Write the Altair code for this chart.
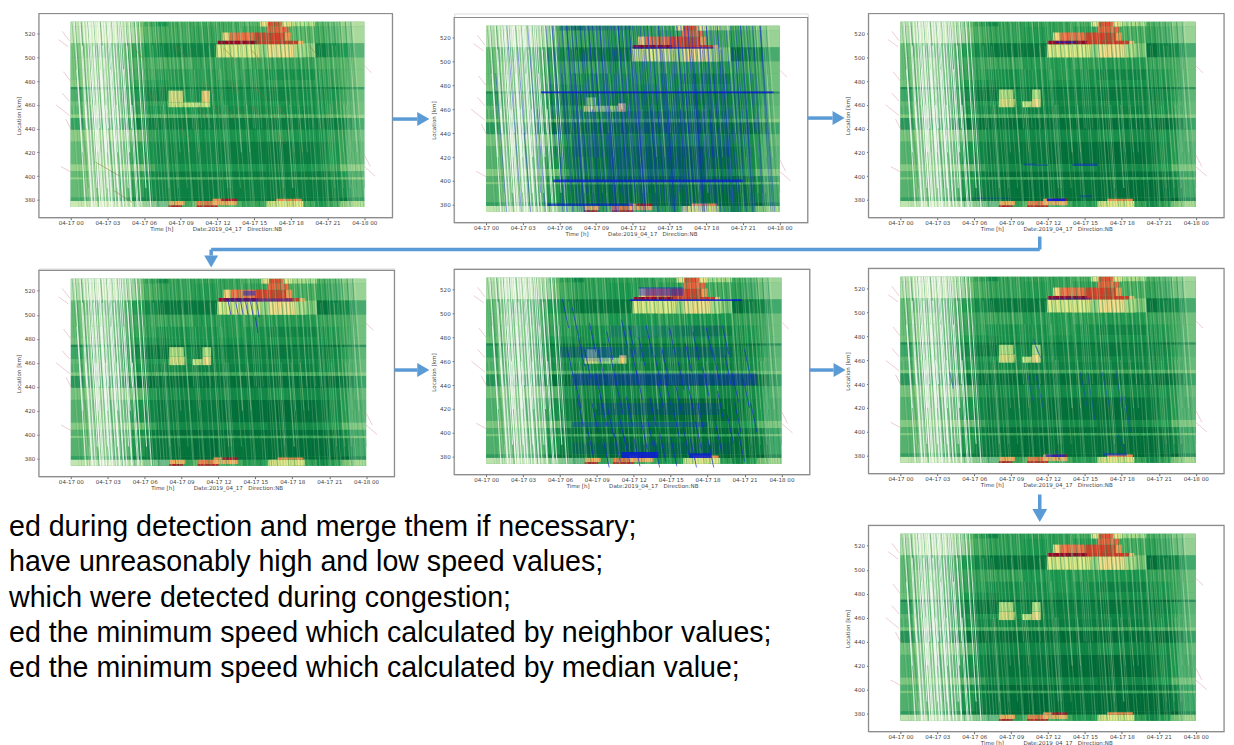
import altair as alt
import pandas as pd

# ---- shared values ----
tick_hours = [0, 3, 6, 9, 12, 15, 18, 21, 24]
tick_km = [380, 400, 420, 440, 460, 480, 500, 520]
time_edges = [0, 1, 2, 3, 4, 5, 6, 7, 8, 10, 12, 14, 16, 18, 20, 21, 22, 23, 24]
band_edges = [530, 526, 512, 500, 490, 481, 475, 473, 463, 459, 452, 449, 439, 429, 410, 404, 399, 397, 382, 379, 374]
band_speed = [
    [72, 70, 68, 70, 72, 78, 86, 92, 86, 86, 86, 82, 70, 68, 82, 82, 76, 74],
    [74, 70, 68, 70, 72, 76, 82, 86, 86, 88, 86, 86, 82, 82, 86, 86, 80, 76],
    [80, 80, 82, 85, 85, 88, 92, 96, 96, 96, 98, 78, 72, 74, 97, 94, 92, 88],
    [80, 76, 76, 82, 84, 84, 85, 85, 85, 88, 88, 86, 88, 88, 85, 85, 84, 80],
    [80, 76, 76, 80, 84, 85, 87, 90, 90, 90, 88, 90, 93, 93, 90, 88, 85, 80],
    [78, 75, 75, 80, 85, 88, 90, 92, 90, 90, 90, 90, 90, 90, 90, 88, 85, 80],
    [95, 92, 90, 92, 95, 96, 97, 98, 98, 98, 98, 98, 98, 98, 98, 98, 96, 94],
    [88, 82, 78, 82, 88, 92, 96, 97, 92, 94, 94, 94, 96, 94, 94, 92, 88, 84],
    [82, 78, 76, 80, 85, 88, 90, 90, 90, 92, 92, 92, 92, 92, 92, 90, 85, 82],
    [84, 78, 76, 80, 86, 90, 92, 93, 92, 94, 94, 94, 94, 94, 92, 90, 86, 82],
    [76, 74, 73, 74, 76, 78, 80, 80, 80, 82, 82, 82, 82, 82, 82, 80, 78, 76],
    [92, 86, 84, 88, 94, 97, 98, 98, 98, 98, 98, 98, 98, 98, 98, 98, 96, 90],
    [78, 74, 72, 72, 74, 78, 88, 92, 92, 92, 92, 92, 90, 92, 92, 90, 88, 82],
    [84, 78, 76, 80, 85, 90, 93, 96, 96, 96, 98, 98, 99, 98, 96, 92, 88, 85],
    [76, 74, 72, 72, 74, 76, 85, 92, 92, 92, 92, 92, 95, 92, 90, 88, 78, 76],
    [84, 80, 78, 82, 86, 90, 95, 97, 98, 98, 98, 98, 98, 98, 98, 96, 92, 88],
    [76, 74, 74, 74, 76, 78, 82, 84, 84, 84, 84, 84, 84, 84, 84, 84, 80, 76],
    [84, 78, 76, 80, 84, 88, 94, 96, 97, 98, 97, 97, 98, 98, 98, 97, 94, 88],
    [90, 86, 82, 88, 92, 94, 96, 97, 98, 99, 98, 98, 99, 99, 98, 99, 99, 94],
    [70, 68, 66, 68, 70, 72, 78, 86, 84, 78, 82, 88, 70, 86, 92, 88, 74, 70],
]
congestion = [
    (11.9, 15.5, 500, 511, 57), (15.5, 16.1, 500, 511, 72), (16.1, 18.3, 500, 511, 50), (18.3, 19.1, 500, 511, 68),
    (12.4, 13.0, 514, 521, 48), (13.0, 15.0, 514, 521, 30), (15.0, 17.5, 514, 521, 22), (17.5, 18.0, 514, 521, 36),
    (16.0, 17.8, 521, 526, 28), (15.5, 16.1, 526, 530, 52), (16.1, 17.3, 526, 530, 25), (17.3, 18.0, 526, 530, 54),
    (12.0, 15.2, 511, 514, 9), (15.2, 18.6, 511, 514, 21), (18.6, 19.0, 511, 514, 42),
    (8.0, 9.1, 374, 375.5, 14), (10.3, 12.0, 374, 375.5, 17), (8.0, 9.3, 375.5, 379, 40), (10.3, 11.6, 375.5, 379, 32),
    (11.6, 13.6, 375.5, 379, 40), (11.6, 12.3, 379, 381, 35), (12.3, 13.6, 379, 381, 12),
    (16.1, 19.0, 374, 379, 56), (16.8, 18.9, 379, 381, 34),
]
mid_box_wide = [(8.0, 11.4, 458, 462, 58), (8.0, 9.2, 462, 472, 54), (10.7, 11.4, 462, 472, 46)]
mid_box_narrow = [(8.0, 9.3, 458, 465, 54), (9.9, 10.7, 458, 463, 60), (10.7, 11.4, 458, 465, 50),
                  (8.0, 9.2, 465, 473, 64), (10.7, 11.4, 465, 473, 66)]
mid_box_faded = [(8.0, 9.0, 458, 463, 56), (9.0, 10.8, 458, 463, 70), (10.8, 11.4, 458, 465, 46), (8.2, 9.0, 463, 470, 72)]
haze = [(0, 5, 374, 530, 0.1), (1.4, 4.2, 374, 530, 0.18), (0, 5.5, 512, 530, 0.32), (0, 8, 374, 379, 0.28),
        (22.6, 24, 374, 530, 0.15), (21, 24, 512, 530, 0.12)]

dark_starts = [0.1, 0.35, 0.6, 0.85, 1.15, 1.4, 1.62, 1.9, 2.2, 2.42, 2.7, 2.9, 3.1, 3.35, 3.55, 3.8, 3.95, 4.1, 4.3, 4.5,
               4.65, 4.85, 5.05, 5.2, 5.4, 5.55, 5.75, 5.9, 6.1, 6.25, 6.45, 6.6, 6.8, 6.95, 7.15, 7.3, 7.45, 7.7, 7.85, 8.0,
               8.15, 8.35, 8.55, 8.7, 8.85, 9.05, 9.2, 9.35, 9.55, 9.75, 9.9, 10.05, 10.25, 10.4, 10.55, 10.8, 10.95, 11.1,
               11.25, 11.45, 11.6, 11.8, 11.95, 12.15, 12.3, 12.45, 12.7, 12.85, 13.0, 13.15, 13.35, 13.5, 13.7, 13.85, 14.05,
               14.2, 14.35, 14.6, 14.75, 14.9, 15.05, 15.25, 15.4, 15.6, 15.75, 15.95, 16.1, 16.25, 16.45, 16.65, 16.8, 17.0,
               17.15, 17.35, 17.5, 17.65, 17.85, 18.05, 18.2, 18.4, 18.55, 18.75, 18.95, 19.1, 19.3, 19.45, 19.65, 19.85,
               20.05, 20.2, 20.4, 20.6, 20.85, 21.05, 21.3, 21.5, 21.75, 22.0, 22.2, 22.45, 22.7, 22.9]
pale_starts = [0.2, 0.7, 1.1, 1.75, 2.35, 2.8, 3.3, 3.7, 4.2, 4.75, 5.3, 5.85, 6.35, 6.9, 7.4, 7.95, 8.45, 9.0, 9.6, 10.15,
               10.7, 11.2, 11.75, 12.25, 12.8, 13.3, 13.8, 14.4, 14.95, 15.5, 16.05, 16.55, 17.1, 17.6, 18.1, 18.65, 19.2,
               19.75, 20.3, 20.75, 21.2, 21.65, 22.1, 22.55, 22.95]
white_early = [0.3, 0.5, 0.75, 0.95, 1.05, 1.2, 1.3, 1.45, 1.55, 1.7, 1.8, 1.85, 1.95, 2.05, 2.15, 2.25, 2.3, 2.45, 2.55, 2.6,
               2.75, 2.85, 2.95, 3.05, 3.15, 3.25, 3.4, 3.5, 3.6, 3.75, 3.85, 4.0, 4.15, 4.3, 4.45, 4.6, 4.8, 5.0, 5.3, 5.6]
white_late = [5.95, 6.3, 6.7, 7.1, 7.6, 8.2, 8.9, 9.4, 10.1, 10.7, 11.3, 11.9, 12.6, 13.2, 13.9, 14.5, 15.1, 15.9, 16.6,
              17.2, 17.9, 18.6, 19.2, 19.8, 20.3, 20.9, 21.4, 21.9, 22.3, 22.7, 23.05]
span_tops = [530, 530, 490, 530, 510, 530, 460, 530]
span_bottoms = [374, 420, 374, 390, 374, 374, 374, 440]

pink_lines = [(-0.7, -0.1, 522, 514), (-1.0, -0.2, 515, 509), (-1.2, -0.1, 460, 451), (-0.6, 0.0, 488, 480), (-0.7, -0.1, 470, 463),
              (-0.8, 0.1, 408, 403), (-0.4, 0.1, 448, 438), (24.0, 24.6, 493, 487), (24.0, 24.9, 408, 400), (24.0, 24.5, 418, 408)]
brown_p1 = [(10.4, 11.2, 458, 449), (11.6, 12.4, 460, 450), (12.6, 13.5, 458, 448), (13.7, 14.6, 456, 447), (14.8, 15.6, 459, 449),
            (15.9, 16.8, 457, 448), (17.0, 17.8, 458, 448), (11.0, 11.8, 478, 468), (13.0, 13.8, 480, 470), (15.0, 15.8, 476, 466),
            (2.0, 4.0, 412, 400), (3.5, 5.0, 388, 378), (5.0, 6.0, 510, 498), (8.5, 9.4, 510, 500), (12.5, 13.5, 508, 497),
            (14.8, 15.6, 506, 496), (19.5, 20.3, 510, 500), (6.2, 7.0, 472, 463), (9.0, 9.8, 440, 431), (16.8, 17.6, 436, 427)]
blue_long_p2 = [0.8, 1.7, 2.6, 3.4, 4.2, 4.9, 5.4, 5.8, 6.2, 6.6, 7.0, 7.3, 7.7, 8.0, 8.4, 8.7, 9.0, 9.3, 9.6, 9.9, 10.2, 10.5, 10.8,
                11.1, 11.4, 11.7, 12.0, 12.3, 12.6, 12.9, 13.2, 13.5, 13.8, 14.1, 14.4, 14.7, 15.0, 15.3, 15.6, 15.9, 16.2, 16.5,
                16.8, 17.1, 17.4, 17.7, 18.0, 18.3, 18.6, 18.9, 19.2, 19.6, 20.0, 20.4, 20.8, 21.3, 21.8, 22.4]
blue_rects_p2 = [(4.5, 23.5, 473.5, 475, 0.85), (5.5, 21.0, 398.8, 401.2, 0.75), (5.0, 12.0, 379, 381, 0.6), (7.0, 20.0, 420, 438, 0.1),
                 (10.0, 18.0, 402, 420, 0.12), (11.0, 18.0, 440, 458, 0.1), (12.0, 18.6, 511, 512, 0.7), (6.0, 12.0, 526, 530, 0.2)]
blue_rects_p5 = [(7.0, 22.0, 440, 450, 0.4), (9.0, 19.0, 415, 425, 0.22), (7.0, 18.0, 405, 409, 0.3), (6.0, 20.0, 463, 472, 0.18),
                 (10.0, 19.0, 480, 490, 0.12), (7.0, 20.0, 382, 392, 0.12), (11.0, 14.0, 379, 384, 0.9), (16.5, 18.3, 379, 383, 0.85),
                 (11.7, 20.8, 510.5, 512, 0.85), (12.4, 16.0, 515, 522, 0.45), (8.0, 10.0, 460, 472, 0.18)]
blue_short_p5 = [(6.2, 512), (7.0, 505), (7.5, 480), (8.0, 470), (8.4, 492), (8.9, 450), (9.3, 430), (9.8, 485), (10.1, 465), (10.6, 440),
                 (11.0, 495), (11.4, 430), (11.8, 470), (12.2, 452), (12.6, 410), (13.0, 490), (13.3, 430), (13.7, 465), (14.1, 400),
                 (14.5, 448), (14.9, 488), (15.2, 420), (15.6, 460), (16.0, 405), (16.4, 440), (16.8, 485), (17.2, 425), (17.6, 455),
                 (18.0, 395), (18.4, 470), (18.8, 435), (19.2, 490), (19.6, 415), (20.0, 450), (20.5, 400), (21.0, 470), (21.5, 425),
                 (8.2, 405), (9.5, 395), (10.4, 400), (11.2, 398), (12.0, 396), (13.6, 395), (15.0, 396), (16.6, 395), (7.4, 430),
                 (6.6, 470), (7.2, 445), (8.6, 425), (9.1, 470), (9.9, 420), (10.8, 415), (11.6, 490), (12.4, 480), (13.1, 412), (13.9, 445),
                 (14.3, 470), (15.4, 440), (16.2, 475), (17.0, 410), (17.9, 488), (18.6, 410), (19.4, 465), (20.2, 425), (20.9, 445)]
blue_rects_p4 = [(12.5, 18.0, 511, 513.5, 0.45), (14.0, 15.0, 516, 520, 0.5)]
blue_lines_p4 = [(12.8, 13.0, 511, 500), (13.4, 13.6, 511, 500), (13.8, 14.0, 511, 500), (14.2, 14.4, 511, 500), (14.6, 14.8, 511, 500),
                 (15.1, 15.3, 511, 498), (15.0, 15.2, 498, 485)]
blue_rects_p3 = [(10.0, 11.0, 409, 410.5, 0.5), (11.0, 12.0, 408.5, 410, 0.35), (14.0, 16.0, 408.5, 410.5, 0.55),
                 (11.9, 13.4, 379, 381, 0.95), (6.0, 9.0, 381, 382, 0.3), (14.6, 15.6, 382, 384, 0.3), (12.6, 14.2, 512, 513.5, 0.6)]
blue_lines_p6 = [(10.3, 10.8, 450, 425), (11.0, 11.6, 448, 420), (14.6, 15.2, 450, 420), (15.2, 15.8, 450, 410), (16.4, 17.0, 450, 420),
                 (17.5, 18.0, 452, 420), (18.2, 18.7, 430, 400), (17.7, 18.3, 398, 382), (12.6, 13.0, 385, 376), (10.8, 11.2, 478, 466),
                 (11.0, 11.4, 472, 462), (4.0, 4.3, 450, 436), (16.4, 17.8, 382, 381)]
blue_rects_p6 = [(11.8, 13.4, 379, 381, 0.7), (16.5, 18.4, 380, 382, 0.5), (12.0, 15.5, 511, 512.5, 0.35)]

note_lines = ["ed during detection and merge them if necessary;",
              "have unreasonably high and low speed values;",
              "which were detected during congestion;",
              "ed the minimum speed which calculated by neighbor values;",
              "ed the minimum speed which calculated by median value;"]
note_rows = [258, 293, 329, 364, 399]

ARROW = "#5b9bd5"
FRAME = "#8c8c8c"
speed_scale = alt.Scale(domain=[10, 20, 30, 40, 50, 60, 70, 80, 90, 100],
                        range=["#a50026", "#d73027", "#f46d43", "#fdae61", "#fee08b",
                               "#d9ef8b", "#a9da8a", "#5fb96b", "#1f9a52", "#006837"])
x_scale = alt.Scale(domain=[-2.6, 26.3], nice=False, zero=False)
label_expr = "datum.value == 24 ? '04-18 00' : '04-17 ' + (datum.value < 10 ? '0' : '') + datum.value"
x_title = "Time [h]\u00a0\u00a0\u00a0\u00a0\u00a0\u00a0\u00a0\u00a0\u00a0\u00a0\u00a0Date:2019_04_17\u00a0\u00a0\u00a0Direction:NB"
one = pd.DataFrame({"a": [0]})
current = {"y": None}


def begin(h, top):
    """The plot area of one grid cell: its frame starts `top` pixels below the top of the cell."""
    current["y"] = alt.Scale(domain=[365, 537], nice=False, zero=False, range=[h + top, top])


def xy():
    return dict(
        x=alt.X("t0:Q", scale=x_scale, axis=alt.Axis(values=tick_hours, labelExpr=label_expr, title=x_title, grid=False,
                                                     domain=False, tickSize=2, tickColor="#666", labelColor="#444", labelFontSize=5.6,
                                                     titleFontSize=5.6, titleColor="#444", titleFontWeight="normal", labelPadding=1,
                                                     titlePadding=0, labelFont="DejaVu Sans", titleFont="DejaVu Sans", labelOverlap=False)),
        x2="t1:Q",
        y=alt.Y("k0:Q", scale=current["y"], axis=alt.Axis(values=tick_km, title="Location [km]", grid=False, domain=False, tickSize=2,
                                                          tickColor="#666", labelColor="#444", labelFontSize=5.6, titleFontSize=5.6,
                                                          titleColor="#444", titleFontWeight="normal", labelPadding=2, titlePadding=3,
                                                          labelFont="DejaVu Sans", titleFont="DejaVu Sans", labelOverlap=False)),
        y2="k1:Q",
    )


def table(rows, extra=None):
    cols = ["t0", "t1", "k0", "k1"] + ([extra] if extra else [])
    return pd.DataFrame(rows, columns=cols)


def streaks(starts, length, phase=0):
    rows = []
    for i, s in enumerate(starts):
        top = span_tops[(i + phase) % len(span_tops)]
        bottom = span_bottoms[(i * 3 + phase) % len(span_bottoms)]
        rows.append((s, s + length * (top - bottom) / 156, top, bottom))
    return table(rows)


def rules(frame, color, width, opacity):
    return alt.Chart(frame).mark_rule(color=color, strokeWidth=width, opacity=opacity).encode(**xy())


def blue_rects(rows):
    return alt.Chart(table(rows, "o")).mark_rect(color="#0a1fd0").encode(opacity=alt.Opacity("o:Q", scale=None), **xy())


def arrow_h(x0, x1, y):
    return [alt.Chart(one).mark_rule(color=ARROW, strokeWidth=3.5).encode(x=alt.value(x0), x2=alt.value(x1), y=alt.value(y)),
            alt.Chart(one).mark_point(shape="triangle-right", filled=True, size=196, color=ARROW, opacity=1).encode(
                x=alt.value(x1 + 6), y=alt.value(y))]


def shaft_v(x, y0, y1):
    return alt.Chart(one).mark_rule(color=ARROW, strokeWidth=3.5).encode(x=alt.value(x), y=alt.value(y0), y2=alt.value(y1))


def arrow_down(x, y0, y1, size=196):
    return [shaft_v(x, y0, y1),
            alt.Chart(one).mark_point(shape="triangle-down", filled=True, size=size, color=ARROW, opacity=1).encode(
                x=alt.value(x), y=alt.value(y1 + 6))]


def panel(w, h, top, tone, box, over=None, add_after=None):
    cells_ = []
    for r in range(len(band_speed)):
        for c in range(len(time_edges) - 1):
            cells_.append((time_edges[c], time_edges[c + 1], band_edges[r + 1], band_edges[r], band_speed[r][c] + tone))
    patches = congestion + box
    frame = alt.Chart(one).mark_rect(fillOpacity=0, stroke=FRAME, strokeWidth=1.2).encode(
        x=alt.value(0), x2=alt.value(w), y=alt.value(top), y2=alt.value(h + top))
    layers = [
        alt.Chart(table([(0, 24, 374, 530)])).mark_rect(color="#3aa65a").encode(**xy()),
        alt.Chart(table(cells_, "s")).mark_rect().encode(color=alt.Color("s:Q", scale=speed_scale, legend=None), **xy()),
        alt.Chart(table(patches, "s")).mark_rect().encode(color=alt.Color("s:Q", scale=speed_scale, legend=None), **xy()),
        alt.Chart(table(haze, "o")).mark_rect(color="#ffffff").encode(opacity=alt.Opacity("o:Q", scale=None), **xy()),
        rules(streaks(dark_starts, 1.25), "#0b7a3e", 0.6, 0.45),
        rules(streaks(dark_starts, 0.9, 4), "#0e8a45", 0.5, 0.35),
        rules(streaks(dark_starts, 1.05, 6), "#0a6e38", 0.4, 0.3),
        rules(streaks(pale_starts, 1.2, 3), "#c3e79a", 0.5, 0.5),
        rules(streaks(pale_starts, 0.95, 6), "#d7efc0", 0.5, 0.4),
        rules(streaks(white_early, 0.95, 1), "#ffffff", 1.0, 0.75),
        rules(streaks(white_late, 1.05, 2), "#e8f5e0", 0.5, 0.5),
        rules(table(pink_lines), "#d98f9c", 0.6, 0.75),
    ]
    layers += over or []
    layers += [frame]
    layers += add_after or []
    return alt.layer(*layers).properties(width=w, height=h + top)


def gap(w, h):
    return alt.Chart(one).mark_point(opacity=0).properties(width=w, height=h)


begin(205, 0)
p1 = panel(355, 205, 0, -2, mid_box_wide, [rules(table(brown_p1), "#9a6a3a", 0.8, 0.6)], arrow_h(355, 380, 106))
begin(206, 4)
p2 = panel(355, 206, 4, 1, mid_box_faded,
           [rules(streaks(blue_long_p2, 1.2, 2), "#1428d8", 0.8, 0.5), rules(streaks(blue_long_p2[6:], 0.9, 5), "#1428d8", 0.8, 0.4),
            rules(streaks(blue_long_p2[8:], 1.05, 7), "#1428d8", 0.7, 0.35), blue_rects(blue_rects_p2)],
           arrow_h(355, 380, 105))
begin(205, 0)
p3 = panel(357, 205, 0, 1, mid_box_narrow, [blue_rects(blue_rects_p3)],
           [shaft_v(172, 224, 237),
            alt.Chart(one).mark_rule(color=ARROW, strokeWidth=3.5).encode(x=alt.value(172), x2=alt.value(-660), y=alt.value(237))])
notes = [alt.Chart(pd.DataFrame({"line": [t]})).mark_text(align="left", baseline="middle", font="Liberation Sans", fontSize=28.7,
                                                         color="#000000").encode(text="line:N", x=alt.value(-30), y=alt.value(r + 2))
         for t, r in zip(note_lines, note_rows)]
begin(207, 2)
p4 = panel(357, 207, 2, 1, mid_box_narrow,
           [blue_rects(blue_rects_p4), rules(table(blue_lines_p4), "#1a2ed0", 1.0, 0.75)],
           arrow_h(357, 380, 102) + arrow_down(173, -19, -13) + notes)
begin(206, 1)
p5 = panel(357, 206, 1, 2, mid_box_faded,
           [blue_rects(blue_rects_p5),
            rules(table([(t, t + 0.5, k, k - 24) for t, k in blue_short_p5]), "#1428d8", 1.0, 0.65)],
           arrow_h(357, 381, 102))
begin(206, 0)
p6 = panel(357, 206, 0, 1, mid_box_narrow,
           [blue_rects(blue_rects_p6), rules(table(blue_lines_p6), "#1a50b0", 1.1, 0.55)],
           arrow_down(172, 227, 242, 225))
begin(207, 0)
p7 = panel(357, 207, 0, 2, mid_box_narrow)

cells = [
    p1, p2, p3,
    gap(358, 46), gap(357, 46), gap(357, 46),
    p4, p5, p6,
    gap(358, 49), gap(357, 49), gap(357, 49),
    gap(358, 1), gap(357, 1), p7,
]

chart = alt.concat(*cells, columns=3, spacing={"row": 0, "column": 59}, bounds="flush",
                   align={"row": "each", "column": "each"}).properties(
    padding={"left": 0, "top": 2, "right": 0, "bottom": 0}
).configure_view(stroke="transparent").configure(background="white")

chart.save("out.html", embed_options={"renderer": "svg", "actions": False})
